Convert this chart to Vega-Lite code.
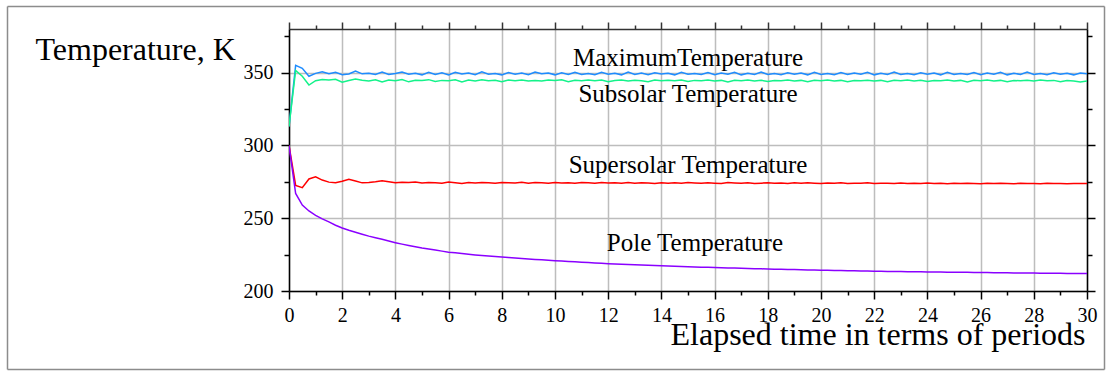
{
  "$schema": "https://vega.github.io/schema/vega-lite/v6.json",
  "width": 798,
  "height": 262,
  "autosize": {"type": "none"},
  "padding": {"left": 289, "top": 29, "right": 24, "bottom": 84},
  "background": "white",
  "config": {
    "view": {"stroke": null},
    "font": "Liberation Serif",
    "axis": {"labelFont": "Liberation Serif", "titleFont": "Liberation Serif", "labelColor": "black", "titleColor": "black", "titleFontWeight": "normal", "domainColor": "black", "tickColor": "black", "labelOverlap": false, "labelFlush": false}
  },
  "datasets": {
    "series": [
      {"t": 0, "Max": 313, "Sub": 313, "Sup": 300, "Pole": 300},
      {"t": 0.25, "Max": 355, "Sub": 351.5, "Sup": 272.5, "Pole": 267},
      {"t": 0.5, "Max": 353, "Sub": 347.5, "Sup": 271, "Pole": 259},
      {"t": 0.75, "Max": 347.5, "Sub": 341.5, "Sup": 277, "Pole": 255},
      {"t": 1, "Max": 349.5, "Sub": 344.5, "Sup": 278.5, "Pole": 252},
      {"t": 1.25, "Max": 350.6, "Sub": 345.3, "Sup": 276.2, "Pole": 249.5},
      {"t": 1.5, "Max": 349.2, "Sub": 345, "Sup": 274.8, "Pole": 247.5},
      {"t": 1.75, "Max": 350.3, "Sub": 345.4, "Sup": 274.4, "Pole": 245.2},
      {"t": 2, "Max": 348.6, "Sub": 343.4, "Sup": 275.4, "Pole": 243.3},
      {"t": 2.25, "Max": 349.1, "Sub": 344.6, "Sup": 276.8, "Pole": 241.7},
      {"t": 2.5, "Max": 351.1, "Sub": 345.6, "Sup": 275.6, "Pole": 240.3},
      {"t": 2.75, "Max": 349.2, "Sub": 344.8, "Sup": 274.3, "Pole": 239},
      {"t": 3, "Max": 349.6, "Sub": 344.3, "Sup": 274.6, "Pole": 237.7},
      {"t": 3.25, "Max": 348.8, "Sub": 345.1, "Sup": 275.1, "Pole": 236.6},
      {"t": 3.5, "Max": 350.4, "Sub": 343.6, "Sup": 275.8, "Pole": 235.5},
      {"t": 3.75, "Max": 348.7, "Sub": 344.9, "Sup": 275.0, "Pole": 234.3},
      {"t": 4, "Max": 349.4, "Sub": 344.4, "Sup": 274.3, "Pole": 233.2},
      {"t": 4.25, "Max": 350.5, "Sub": 345.3, "Sup": 274.7, "Pole": 232.2},
      {"t": 4.5, "Max": 348.9, "Sub": 343.7, "Sup": 274.5, "Pole": 231.3},
      {"t": 4.75, "Max": 349.6, "Sub": 344.8, "Sup": 274.9, "Pole": 230.4},
      {"t": 5, "Max": 348.5, "Sub": 344.6, "Sup": 274.2, "Pole": 229.5},
      {"t": 5.25, "Max": 350.3, "Sub": 345.2, "Sup": 274.6, "Pole": 228.8},
      {"t": 5.5, "Max": 348.8, "Sub": 343.9, "Sup": 274.4, "Pole": 228.1},
      {"t": 5.75, "Max": 349.9, "Sub": 344.7, "Sup": 274.1, "Pole": 227.4},
      {"t": 6, "Max": 348.4, "Sub": 344.5, "Sup": 274.8, "Pole": 226.7},
      {"t": 6.25, "Max": 350.2, "Sub": 345.1, "Sup": 274.3, "Pole": 226.2},
      {"t": 6.5, "Max": 349.1, "Sub": 343.6, "Sup": 273.8, "Pole": 225.7},
      {"t": 6.75, "Max": 349.7, "Sub": 344.9, "Sup": 274.5, "Pole": 225.2},
      {"t": 7, "Max": 348.6, "Sub": 344.3, "Sup": 274.2, "Pole": 224.8},
      {"t": 7.25, "Max": 350.6, "Sub": 345.2, "Sup": 274.6, "Pole": 224.4},
      {"t": 7.5, "Max": 348.9, "Sub": 344.4, "Sup": 274.3, "Pole": 224.0},
      {"t": 7.75, "Max": 349.4, "Sub": 344.8, "Sup": 274.0, "Pole": 223.7},
      {"t": 8, "Max": 348.5, "Sub": 343.7, "Sup": 274.6, "Pole": 223.3},
      {"t": 8.25, "Max": 350.1, "Sub": 344.9, "Sup": 274.4, "Pole": 223.0},
      {"t": 8.5, "Max": 349.0, "Sub": 344.5, "Sup": 274.2, "Pole": 222.6},
      {"t": 8.75, "Max": 349.8, "Sub": 345.0, "Sup": 274.7, "Pole": 222.3},
      {"t": 9, "Max": 348.6, "Sub": 344.2, "Sup": 274.1, "Pole": 222.0},
      {"t": 9.25, "Max": 350.4, "Sub": 344.7, "Sup": 274.5, "Pole": 221.7},
      {"t": 9.5, "Max": 349.2, "Sub": 344.3, "Sup": 274.3, "Pole": 221.4},
      {"t": 9.75, "Max": 349.7, "Sub": 344.9, "Sup": 274.0, "Pole": 221.1},
      {"t": 10, "Max": 348.5, "Sub": 344.6, "Sup": 274.5, "Pole": 220.8},
      {"t": 10.25, "Max": 349.9, "Sub": 345.1, "Sup": 274.2, "Pole": 220.55},
      {"t": 10.5, "Max": 348.8, "Sub": 343.8, "Sup": 274.4, "Pole": 220.3},
      {"t": 10.75, "Max": 350.3, "Sub": 344.8, "Sup": 274.1, "Pole": 220.05},
      {"t": 11, "Max": 348.7, "Sub": 344.5, "Sup": 274.6, "Pole": 219.8},
      {"t": 11.25, "Max": 349.5, "Sub": 345.0, "Sup": 274.3, "Pole": 219.55},
      {"t": 11.5, "Max": 348.6, "Sub": 344.4, "Sup": 274.0, "Pole": 219.3},
      {"t": 11.75, "Max": 350.2, "Sub": 344.9, "Sup": 274.5, "Pole": 219.05},
      {"t": 12, "Max": 349.0, "Sub": 343.7, "Sup": 274.2, "Pole": 218.8},
      {"t": 12.25, "Max": 349.6, "Sub": 344.6, "Sup": 274.4, "Pole": 218.6},
      {"t": 12.5, "Max": 348.5, "Sub": 345.0, "Sup": 274.1, "Pole": 218.4},
      {"t": 12.75, "Max": 350.4, "Sub": 344.3, "Sup": 274.6, "Pole": 218.2},
      {"t": 13, "Max": 348.8, "Sub": 344.8, "Sup": 274.0, "Pole": 218.0},
      {"t": 13.25, "Max": 349.7, "Sub": 344.5, "Sup": 274.4, "Pole": 217.8},
      {"t": 13.5, "Max": 348.6, "Sub": 343.8, "Sup": 274.2, "Pole": 217.65},
      {"t": 13.75, "Max": 350.0, "Sub": 344.9, "Sup": 273.8, "Pole": 217.5},
      {"t": 14, "Max": 349.1, "Sub": 344.4, "Sup": 274.4, "Pole": 217.3},
      {"t": 14.25, "Max": 349.6, "Sub": 344.8, "Sup": 274.1, "Pole": 217.15},
      {"t": 14.5, "Max": 348.5, "Sub": 344.5, "Sup": 274.3, "Pole": 217.0},
      {"t": 14.75, "Max": 350.3, "Sub": 345.0, "Sup": 274.0, "Pole": 216.85},
      {"t": 15, "Max": 348.9, "Sub": 343.9, "Sup": 274.5, "Pole": 216.7},
      {"t": 15.25, "Max": 349.4, "Sub": 344.7, "Sup": 274.2, "Pole": 216.55},
      {"t": 15.5, "Max": 348.7, "Sub": 344.4, "Sup": 274.0, "Pole": 216.4},
      {"t": 15.75, "Max": 350.1, "Sub": 344.9, "Sup": 274.4, "Pole": 216.25},
      {"t": 16, "Max": 348.6, "Sub": 344.2, "Sup": 274.1, "Pole": 216.1},
      {"t": 16.25, "Max": 349.8, "Sub": 344.7, "Sup": 273.9, "Pole": 215.98},
      {"t": 16.5, "Max": 349.0, "Sub": 343.6, "Sup": 274.5, "Pole": 215.85},
      {"t": 16.75, "Max": 350.2, "Sub": 344.8, "Sup": 274.2, "Pole": 215.73},
      {"t": 17, "Max": 348.5, "Sub": 344.4, "Sup": 274.0, "Pole": 215.6},
      {"t": 17.25, "Max": 349.6, "Sub": 344.9, "Sup": 274.3, "Pole": 215.48},
      {"t": 17.5, "Max": 348.8, "Sub": 344.3, "Sup": 273.9, "Pole": 215.35},
      {"t": 17.75, "Max": 350.4, "Sub": 344.8, "Sup": 274.1, "Pole": 215.23},
      {"t": 18, "Max": 348.7, "Sub": 343.9, "Sup": 274.4, "Pole": 215.1},
      {"t": 18.25, "Max": 349.5, "Sub": 344.6, "Sup": 274.0, "Pole": 215.0},
      {"t": 18.5, "Max": 348.6, "Sub": 344.4, "Sup": 274.2, "Pole": 214.9},
      {"t": 18.75, "Max": 350.0, "Sub": 344.9, "Sup": 273.8, "Pole": 214.8},
      {"t": 19, "Max": 349.0, "Sub": 344.3, "Sup": 274.3, "Pole": 214.7},
      {"t": 19.25, "Max": 349.7, "Sub": 344.7, "Sup": 274.0, "Pole": 214.6},
      {"t": 19.5, "Max": 348.5, "Sub": 343.7, "Sup": 274.4, "Pole": 214.5},
      {"t": 19.75, "Max": 350.3, "Sub": 344.8, "Sup": 274.1, "Pole": 214.4},
      {"t": 20, "Max": 348.8, "Sub": 344.4, "Sup": 273.9, "Pole": 214.3},
      {"t": 20.25, "Max": 349.5, "Sub": 344.9, "Sup": 274.2, "Pole": 214.2},
      {"t": 20.5, "Max": 348.6, "Sub": 344.3, "Sup": 274.0, "Pole": 214.1},
      {"t": 20.75, "Max": 350.1, "Sub": 344.7, "Sup": 274.3, "Pole": 214.0},
      {"t": 21, "Max": 348.7, "Sub": 343.8, "Sup": 273.8, "Pole": 213.95},
      {"t": 21.25, "Max": 349.8, "Sub": 344.6, "Sup": 274.1, "Pole": 213.85},
      {"t": 21.5, "Max": 348.9, "Sub": 344.4, "Sup": 274.0, "Pole": 213.78},
      {"t": 21.75, "Max": 350.2, "Sub": 344.8, "Sup": 274.3, "Pole": 213.7},
      {"t": 22, "Max": 348.5, "Sub": 344.2, "Sup": 273.9, "Pole": 213.6},
      {"t": 22.25, "Max": 349.6, "Sub": 344.7, "Sup": 274.1, "Pole": 213.55},
      {"t": 22.5, "Max": 348.8, "Sub": 343.7, "Sup": 274.0, "Pole": 213.48},
      {"t": 22.75, "Max": 350.4, "Sub": 344.8, "Sup": 273.8, "Pole": 213.42},
      {"t": 23, "Max": 348.7, "Sub": 344.4, "Sup": 274.2, "Pole": 213.35},
      {"t": 23.25, "Max": 349.5, "Sub": 344.9, "Sup": 273.9, "Pole": 213.3},
      {"t": 23.5, "Max": 348.6, "Sub": 344.3, "Sup": 274.1, "Pole": 213.22},
      {"t": 23.75, "Max": 350.0, "Sub": 344.8, "Sup": 273.8, "Pole": 213.16},
      {"t": 24, "Max": 349.0, "Sub": 343.9, "Sup": 274.2, "Pole": 213.1},
      {"t": 24.25, "Max": 349.7, "Sub": 344.6, "Sup": 273.9, "Pole": 213.05},
      {"t": 24.5, "Max": 348.5, "Sub": 344.4, "Sup": 274.1, "Pole": 213.0},
      {"t": 24.75, "Max": 350.3, "Sub": 344.9, "Sup": 273.7, "Pole": 212.95},
      {"t": 25, "Max": 348.8, "Sub": 344.3, "Sup": 274.0, "Pole": 212.9},
      {"t": 25.25, "Max": 349.4, "Sub": 344.7, "Sup": 273.8, "Pole": 212.85},
      {"t": 25.5, "Max": 348.7, "Sub": 343.6, "Sup": 274.1, "Pole": 212.8},
      {"t": 25.75, "Max": 350.1, "Sub": 344.8, "Sup": 273.9, "Pole": 212.75},
      {"t": 26, "Max": 348.6, "Sub": 344.4, "Sup": 273.7, "Pole": 212.7},
      {"t": 26.25, "Max": 349.8, "Sub": 344.9, "Sup": 274.0, "Pole": 212.65},
      {"t": 26.5, "Max": 349.0, "Sub": 344.3, "Sup": 273.8, "Pole": 212.6},
      {"t": 26.75, "Max": 350.2, "Sub": 344.7, "Sup": 274.1, "Pole": 212.55},
      {"t": 27, "Max": 348.5, "Sub": 343.8, "Sup": 273.9, "Pole": 212.5},
      {"t": 27.25, "Max": 349.6, "Sub": 344.6, "Sup": 273.7, "Pole": 212.45},
      {"t": 27.5, "Max": 348.8, "Sub": 344.4, "Sup": 274.0, "Pole": 212.4},
      {"t": 27.75, "Max": 350.4, "Sub": 344.8, "Sup": 273.8, "Pole": 212.35},
      {"t": 28, "Max": 348.7, "Sub": 344.3, "Sup": 273.9, "Pole": 212.3},
      {"t": 28.25, "Max": 349.5, "Sub": 344.9, "Sup": 273.7, "Pole": 212.26},
      {"t": 28.5, "Max": 348.6, "Sub": 344.4, "Sup": 274.0, "Pole": 212.22},
      {"t": 28.75, "Max": 350.0, "Sub": 344.7, "Sup": 273.8, "Pole": 212.18},
      {"t": 29, "Max": 349.0, "Sub": 343.7, "Sup": 273.9, "Pole": 212.14},
      {"t": 29.25, "Max": 349.6, "Sub": 344.6, "Sup": 273.7, "Pole": 212.1},
      {"t": 29.5, "Max": 348.5, "Sub": 344.3, "Sup": 273.9, "Pole": 212.06},
      {"t": 29.75, "Max": 349.8, "Sub": 343.6, "Sup": 273.8, "Pole": 212.03},
      {"t": 30, "Max": 349.3, "Sub": 344.2, "Sup": 273.9, "Pole": 212.0}
    ],
    "labels": [
      {"t": 15, "T": 354.6, "label": "MaximumTemperature"},
      {"t": 15, "T": 329.8, "label": "Subsolar Temperature"},
      {"t": 15, "T": 281.1, "label": "Supersolar Temperature"},
      {"t": 15.26, "T": 227.5, "label": "Pole Temperature"}
    ]
  },
  "layer": [
    {
      "layer": [
        {
          "data": {"name": "series"},
          "transform": [{"fold": ["Max", "Sub", "Sup", "Pole"], "as": ["series", "T"]}],
          "mark": {"type": "line", "strokeWidth": 1.5, "clip": true},
          "encoding": {
            "x": {
              "field": "t", "type": "quantitative",
              "scale": {"domain": [0, 30], "nice": false, "zero": false},
              "axis": {
                "orient": "bottom",
                "values": [0,1,2,3,4,5,6,7,8,9,10,11,12,13,14,15,16,17,18,19,20,21,22,23,24,25,26,27,28,29,30],
                "labelExpr": "datum.value % 2 === 0 ? datum.label : ''",
                "labelFontSize": 20,
                "labelPadding": 6,
                "tickSize": {"condition": {"test": "datum.value % 2 === 0", "value": 8}, "value": 4},
                "tickWidth": 1.5,
                "domainWidth": 1.5,
                "grid": true,
                "gridColor": "#bdbdbd",
                "gridWidth": 1.5,
                "gridOpacity": {"condition": {"test": "datum.value % 2 === 0", "value": 1}, "value": 0},
                "title": "Elapsed time in terms of periods",
                "titleFontSize": 32,
                "titleAlign": "right",
                "titleBaseline": "alphabetic",
                "titleX": 796,
                "titleY": 53
              }
            },
            "y": {
              "field": "T", "type": "quantitative",
              "scale": {"domain": [200, 380], "nice": false, "zero": false},
              "axis": {
                "orient": "left",
                "values": [200, 225, 250, 275, 300, 325, 350, 375],
                "labelExpr": "datum.value % 50 === 0 ? datum.label : ''",
                "labelFontSize": 20,
                "labelPadding": 8,
                "tickSize": {"condition": {"test": "datum.value % 50 === 0", "value": 8}, "value": 5},
                "tickWidth": 1.5,
                "domainWidth": 1.5,
                "grid": true,
                "gridColor": "#bdbdbd",
                "gridWidth": 1.5,
                "gridOpacity": {"condition": {"test": "datum.value % 50 === 0", "value": 1}, "value": 0},
                "title": "Temperature, K",
                "titleFontSize": 32,
                "titleAngle": 0,
                "titleAlign": "left",
                "titleBaseline": "alphabetic",
                "titleX": -254,
                "titleY": 30
              }
            },
            "color": {
              "field": "series", "type": "nominal",
              "scale": {"domain": ["Max", "Sub", "Sup", "Pole"], "range": ["#1e8cff", "#14f28a", "#ff0000", "#8a00ff"]},
              "legend": null
            }
          }
        },
        {
          "data": {"name": "labels"},
          "mark": {"type": "text", "fontSize": 25, "font": "Liberation Serif", "align": "center", "baseline": "alphabetic", "color": "black"},
          "encoding": {
            "x": {
              "field": "t", "type": "quantitative",
              "axis": {
                "orient": "top",
                "values": [0,1,2,3,4,5,6,7,8,9,10,11,12,13,14,15,16,17,18,19,20,21,22,23,24,25,26,27,28,29,30],
                "labels": false,
                "grid": false,
                "title": null,
                "tickSize": {"condition": {"test": "datum.value % 2 === 0", "value": 7}, "value": 4},
                "tickWidth": 1.5,
                "domainWidth": 1.5,
                "domainColor": "#333333",
                "tickColor": "#333333"
              }
            },
            "y": {
              "field": "T", "type": "quantitative",
              "axis": {
                "orient": "right",
                "values": [200, 225, 250, 275, 300, 325, 350, 375],
                "labels": false,
                "grid": false,
                "title": null,
                "tickSize": {"condition": {"test": "datum.value % 50 === 0", "value": 8}, "value": 5},
                "tickWidth": 1.5,
                "domainWidth": 1.5
              }
            },
            "text": {"field": "label"}
          }
        }
      ],
      "resolve": {"axis": {"x": "independent", "y": "independent"}}
    },
    {
      "data": {"name": "labels"},
      "mark": {"type": "point", "opacity": 0},
      "encoding": {
        "x": {
          "field": "t", "type": "quantitative",
          "scale": {"domain": [0, 30], "range": [-282, 815], "nice": false, "zero": false},
          "axis": {"orient": "bottom", "offset": 78, "ticks": false, "labels": false, "grid": false, "title": null, "domainColor": "#8c8c8c", "domainWidth": 1.5}
        },
        "y": {
          "field": "T", "type": "quantitative",
          "scale": {"domain": [200, 380], "range": [340, -23], "nice": false, "zero": false},
          "axis": {"orient": "left", "offset": 282, "ticks": false, "labels": false, "grid": false, "title": null, "domainColor": "#8c8c8c", "domainWidth": 1.5}
        }
      }
    },
    {
      "data": {"name": "labels"},
      "mark": {"type": "point", "opacity": 0},
      "encoding": {
        "x": {
          "field": "t", "type": "quantitative",
          "scale": {"domain": [0, 30], "range": [-282, 815], "nice": false, "zero": false},
          "axis": {"orient": "top", "offset": 23, "ticks": false, "labels": false, "grid": false, "title": null, "domainColor": "#8c8c8c", "domainWidth": 1.5}
        },
        "y": {
          "field": "T", "type": "quantitative",
          "scale": {"domain": [200, 380], "range": [340, -23], "nice": false, "zero": false},
          "axis": {"orient": "right", "offset": 17, "ticks": false, "labels": false, "grid": false, "title": null, "domainColor": "#8c8c8c", "domainWidth": 1.5}
        }
      }
    }
  ],
  "resolve": {"scale": {"x": "independent", "y": "independent"}, "axis": {"x": "independent", "y": "independent"}}
}
